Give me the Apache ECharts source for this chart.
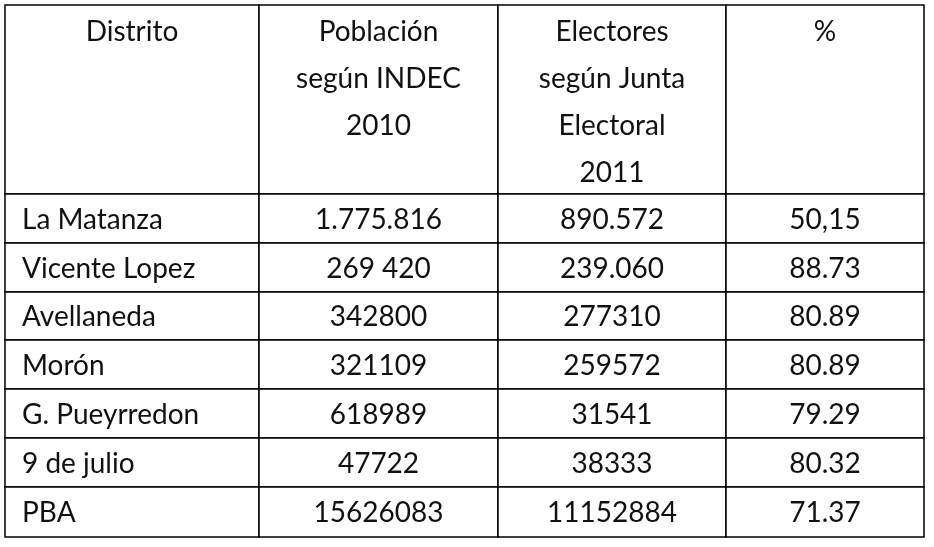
<!DOCTYPE html>
<html><head><meta charset="utf-8">
<script src="https://cdn.jsdelivr.net/npm/echarts@6/dist/echarts.min.js"></script>
<style>html,body{margin:0;background:#fff}#c{width:934px;height:547px}</style>
</head><body><div id="c"></div>
<script>
const headers = ['Distrito', 'Población\nsegún INDEC\n2010', 'Electores\nsegún Junta\nElectoral\n2011', '%']
const districts = ['La Matanza', 'Vicente Lopez', 'Avellaneda', 'Morón', 'G. Pueyrredon', '9 de julio', 'PBA']
const poblacion = ['1.775.816', '269 420', '342800', '321109', '618989', '47722', '15626083']
const electores = ['890.572', '239.060', '277310', '259572', '31541', '38333', '11152884']
const porcentaje = ['50,15', '88.73', '80.89', '80.89', '79.29', '80.32', '71.37']

// layout in axis units: column edges (x) and row edges (y, header is taller)
const colEdges = [0, 254, 493, 721, 919]
const rowEdges = [0, 189, 238, 287, 335, 384, 433, 482, 532]

const cells = []
headers.forEach((h, c) => cells.push([c, 0, h, 1]))
const cols = [districts, poblacion, electores, porcentaje]
districts.forEach((d, r) => cols.forEach((arr, c) => cells.push([c, r + 1, arr[r], 0])))

const chart = echarts.init(document.getElementById('c'))
chart.setOption({
  backgroundColor: '#fff',
  animation: false,
  grid: { left: 5, top: 5, width: 919, height: 532 },
  xAxis: { type: 'value', min: 0, max: 919, show: false },
  yAxis: { type: 'value', min: 0, max: 532, inverse: true, show: false },
  series: [{
    type: 'custom',
    data: cells,
    renderItem(params, api) {
      const c = api.value(0), r = api.value(1), isHead = api.value(3)
      const p0 = api.coord([colEdges[c], rowEdges[r]])
      const p1 = api.coord([colEdges[c + 1], rowEdges[r + 1]])
      const left = c === 0 && !isHead
      return {
        type: 'group',
        children: [
          { type: 'rect', shape: { x: p0[0], y: p0[1], width: p1[0] - p0[0], height: p1[1] - p0[1] },
            style: { fill: '#fff', stroke: '#000', lineWidth: 1.5 } },
          { type: 'text',
            style: {
              text: cells[params.dataIndex][2],
              x: left ? p0[0] + 17 : (p0[0] + p1[0]) / 2,
              y: isHead ? p0[1] + 3 : (p0[1] + p1[1]) / 2 + 1,
              align: left ? 'left' : 'center',
              verticalAlign: isHead ? 'top' : 'middle',
              font: '28px Lato, "Open Sans", sans-serif',
              lineHeight: 47,
              fill: '#111'
            } }
        ]
      }
    }
  }]
})
</script></body></html>
